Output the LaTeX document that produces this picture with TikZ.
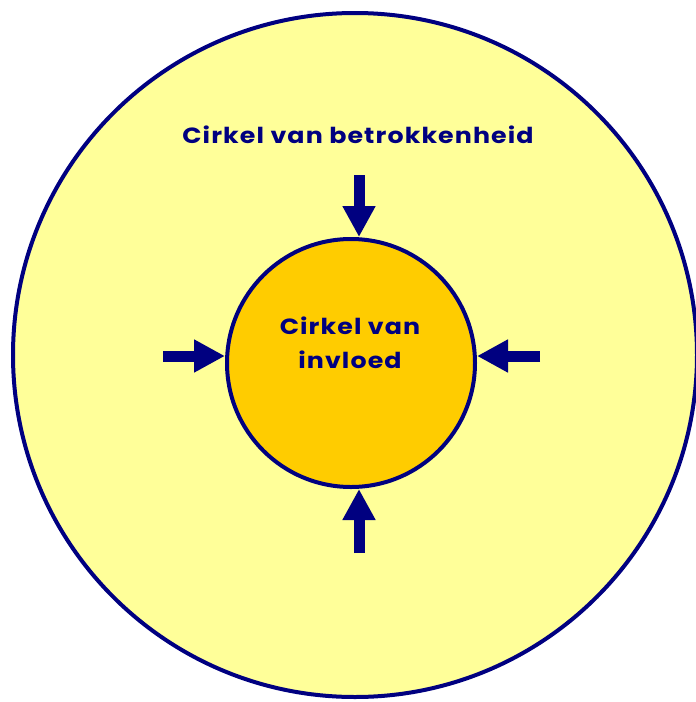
\documentclass[tikz,border=0pt]{standalone}
\usepackage{fontspec}
\newfontfamily\gothic{Poppins}[FakeStretch=1.15, LetterSpace=5]
\usetikzlibrary{arrows.meta,positioning}
\definecolor{navy}{HTML}{000080}
\definecolor{paleyellow}{HTML}{FFFF99}
\definecolor{gold}{HTML}{FFCC00}

\begin{document}
\begin{tikzpicture}[x=1pt, y=-1pt,
    ring/.style = {draw=navy, circle, line width=4pt, inner sep=0pt},
    txt/.style = {text=navy, font=\gothic\bfseries\fontsize{22}{34}\selectfont, align=center},
    push/.style = {draw=navy, line width=11pt, -{Triangle[length=31pt, width=31pt]}}]
    \useasboundingbox (0,0) rectangle (696,702);
    \node[ring, fill=paleyellow, minimum size=684pt] (outer) at (355,355) {};
    \node[ring, fill=gold, minimum size=248pt] (inner) at (351,363) {};
    \node[txt] (t_outer) at (358,135) {Cirkel van betrokkenheid};
    \node[txt] (t_inner) at (350,343) {Cirkel van\\invloed};

    \coordinate (a_top) at (359,175);
    \coordinate (a_bottom) at (359,553);
    \coordinate (a_left) at (163,356);
    \coordinate (a_right) at (540,356);

    \draw[push] (a_top) -- (a_top |- inner.north);
    \draw[push] (a_bottom) -- (a_bottom |- inner.south);
    \draw[push] (a_left) -- (a_left -| inner.west);
    \draw[push] (a_right) -- (a_right -| inner.east);
\end{tikzpicture}
\end{document}
